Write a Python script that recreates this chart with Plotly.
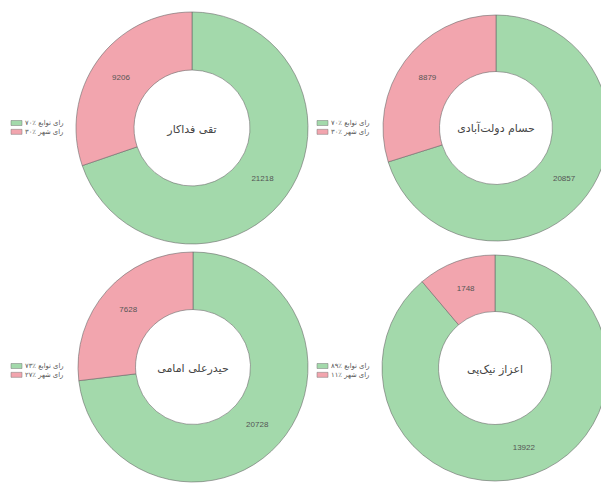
import plotly.graph_objects as go

candidates = ["تقی فداکار", "حسام دولت‌آبادی", "حیدرعلی امامی", "اعزاز نیک‌پی"]
labels = ["رای توابع", "رای شهر"]
votes_region = [21218, 20857, 20728, 13922]
votes_city = [9206, 8879, 7628, 1748]
colors = ["#a3d9ab", "#f2a5ae"]

# page body adds an 8px margin, so the figure is sized to fill the remaining window
W, H = 601, 478
# pie placement in figure pixels: (cx, cy, r)
places = [(184, 120, 116), (488, 120, 113), (185, 359, 115), (487, 360, 113)]
legend_pos = [(3, 115), (309, 115), (3, 358), (309, 358)]

fa_digits = str.maketrans("0123456789", "۰۱۲۳۴۵۶۷۸۹")
LEG_FONT = 6.8
ROW = LEG_FONT * 1.3

fig = go.Figure()
shapes = []
annotations = []
for i, name in enumerate(candidates):
    cx, cy, r = places[i]
    vals = [votes_region[i], votes_city[i]]
    fig.add_trace(go.Pie(
        labels=labels, values=vals, hole=0.5, sort=False, direction="clockwise",
        rotation=0,
        marker=dict(colors=colors, line=dict(color="#6a6a6a", width=0.6)),
        texttemplate="%{value:d}", textposition="inside",
        insidetextorientation="horizontal",
        textfont=dict(family="Liberation Sans, Arial", size=8, color="#555555"),
        title=dict(text=name, position="middle center",
                   font=dict(family="DejaVu Sans", size=11, color="#444444")),
        domain=dict(x=[max(0, (cx - r) / W), min(1, (cx + r) / W)],
                    y=[max(0, 1 - (cy + r) / H), min(1, 1 - (cy - r) / H)]),
        showlegend=False, name=name,
    ))
    total = sum(vals)
    lx, ly = legend_pos[i]
    lines = []
    for j, (lab, v) in enumerate(zip(labels, vals)):
        pct = round(100 * v / total)
        yy = ly + j * ROW
        shapes.append(dict(type="rect", xref="paper", yref="paper",
                           x0=lx / W, x1=(lx + 11) / W, y0=1 - (yy - 2.5) / H, y1=1 - (yy + 2.5) / H,
                           fillcolor=colors[j], line=dict(color="#777777", width=0.5)))
        # number first in logical order so it renders on the left, next to the swatch
        lines.append(f"{str(pct).translate(fa_digits)}٪ {lab}")
    annotations.append(dict(text="<br>".join(lines),
                            x=(lx + 13) / W, y=1 - (ly + ROW / 2) / H, xref="paper", yref="paper",
                            xanchor="left", yanchor="middle", align="left", showarrow=False,
                            borderpad=0,
                            font=dict(family="DejaVu Sans", size=LEG_FONT, color="#555555")))

fig.update_layout(width=W, height=H, margin=dict(l=0, r=0, t=0, b=0),
                  paper_bgcolor="white", plot_bgcolor="white",
                  shapes=shapes, annotations=annotations, showlegend=False)
fig.write_html("out.html")
